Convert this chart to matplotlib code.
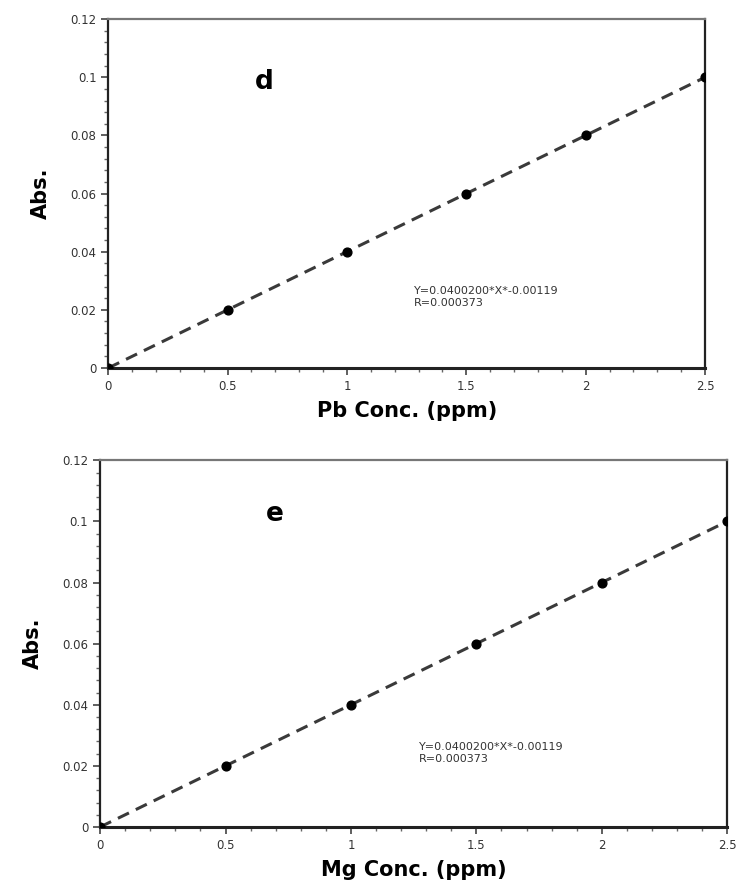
import matplotlib
matplotlib.use("Agg")
import matplotlib.pyplot as plt
from matplotlib.ticker import MultipleLocator

# calibration data (same for both panels)
conc = [0.0, 0.5, 1.0, 1.5, 2.0, 2.5]
abs_pb = [0.0, 0.02, 0.04, 0.06, 0.08, 0.10]
abs_mg = [0.0, 0.02, 0.04, 0.06, 0.08, 0.10]
fit_x = [0.0, 2.5]
fit_y = [0.0, 0.10]
x_ticks = [0, 0.5, 1, 1.5, 2, 2.5]
x_labels = ["0", "0.5", "1", "1.5", "2", "2.5"]
y_ticks = [0, 0.02, 0.04, 0.06, 0.08, 0.1, 0.12]
y_labels = ["0", "0.02", "0.04", "0.06", "0.08", "0.1", "0.12"]
eq_text = "Y=0.0400200*X*-0.00119\nR=0.000373"

plt.rcParams["font.family"] = "DejaVu Sans"

fig = plt.figure(figsize=(7.36, 8.9), dpi=100)
ax1 = fig.add_axes([0.147, 0.5865, 0.811, 0.392])
ax2 = fig.add_axes([0.136, 0.0708, 0.852, 0.412])

panels = [(ax1, abs_pb, "d", "Pb Conc. (ppm)", (0.615, 0.0985), (1.28, 0.0245)),
          (ax2, abs_mg, "e", "Mg Conc. (ppm)", (0.66, 0.1025), (1.27, 0.0243))]

for ax, yv, letter, xlabel, lpos, tpos in panels:
    ax.plot(fit_x, fit_y, color="#3a3a3a", lw=2.2, ls=(0, (4, 2.5)), zorder=2)
    ax.scatter(conc, yv, color="black", s=40, zorder=3)
    ax.set_xlim(0, 2.5)
    ax.set_ylim(0, 0.12)
    ax.set_xticks(x_ticks)
    ax.set_xticklabels(x_labels)
    ax.set_yticks(y_ticks)
    ax.set_yticklabels(y_labels)
    ax.xaxis.set_minor_locator(MultipleLocator(0.1))
    ax.yaxis.set_minor_locator(MultipleLocator(0.004))
    ax.tick_params(which="major", direction="out", length=5, width=1.2,
                   labelsize=8.5, colors="#444444", labelcolor="#333333")
    ax.tick_params(which="minor", direction="out", length=3, width=1, colors="#666666")
    for sp in ax.spines.values():
        sp.set_linewidth(1.6)
        sp.set_color("#222222")
    ax.spines["top"].set_color("#777777")
    ax.spines["bottom"].set_linewidth(2.2)
    ax.set_xlabel(xlabel, fontsize=15, fontweight="bold", labelpad=6)
    ax.set_ylabel("Abs.", fontsize=15, fontweight="bold", labelpad=14)
    ax.text(lpos[0], lpos[1], letter, fontsize=19, fontweight="bold", ha="left", va="center")
    ax.text(tpos[0], tpos[1], eq_text, fontsize=8, ha="left", va="center",
            color="#333333", linespacing=1.3)

fig.savefig("out.png", dpi=100)
